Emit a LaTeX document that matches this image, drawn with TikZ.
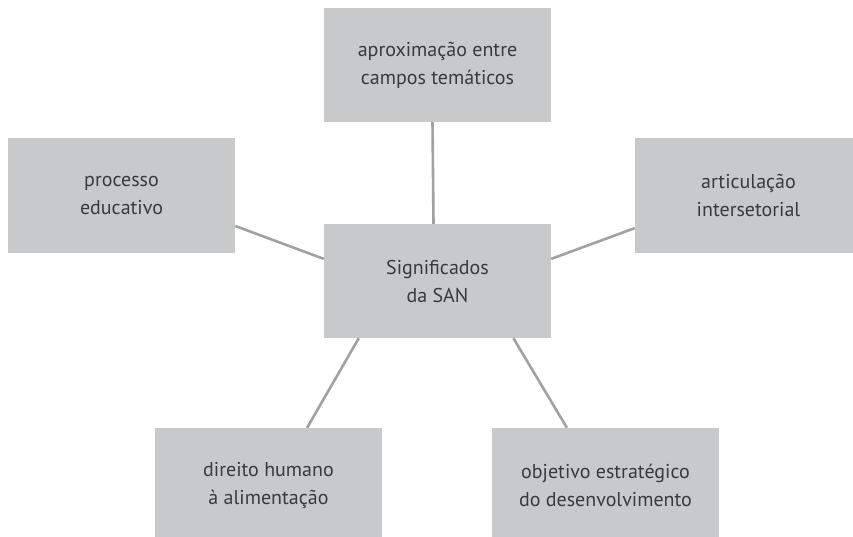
\documentclass[tikz,border=0pt]{standalone}
\usepackage{fontspec}
\setmainfont{PT Sans}
\definecolor{boxgray}{HTML}{C8C9CB}
\definecolor{linegray}{HTML}{A0A1A3}
\definecolor{textgray}{HTML}{3A3A3A}
\begin{document}
\begin{tikzpicture}[x=1pt, y=-1pt,
    box/.style={fill=boxgray, minimum width=227pt, minimum height=114pt,
        inner sep=0pt, align=center, text=textgray,
        font=\fontsize{20}{28}\selectfont},
    link/.style={draw=linegray, line width=2.6pt}]
    \useasboundingbox (0,0) rectangle (853,537);
    \node[box] (sig) at (437.5,281) {Significados\\da SAN};
    \node[box] (aprox) at (437.5,65) {aproximação entre\\campos temáticos};
    \node[box] (proc) at (121.5,195.5) {processo\\educativo};
    \node[box] (artic) at (748.5,195.5) {articulação\\intersetorial};
    \node[box] (dir) at (268.5,485) {direito humano\\à alimentação};
    \node[box] (obj) at (605.5,485) {objetivo estratégico\\do desenvolvimento};
    \draw[link] (aprox.265.5) -- (sig.94.5);
    \draw[link] (proc.-15.5) -- (sig.169);
    \draw[link] (artic.196) -- (sig.11);
    \draw[link] (dir.56.7) -- (sig.216);
    \draw[link] (obj.124.7) -- (sig.-37);
\end{tikzpicture}
\end{document}
